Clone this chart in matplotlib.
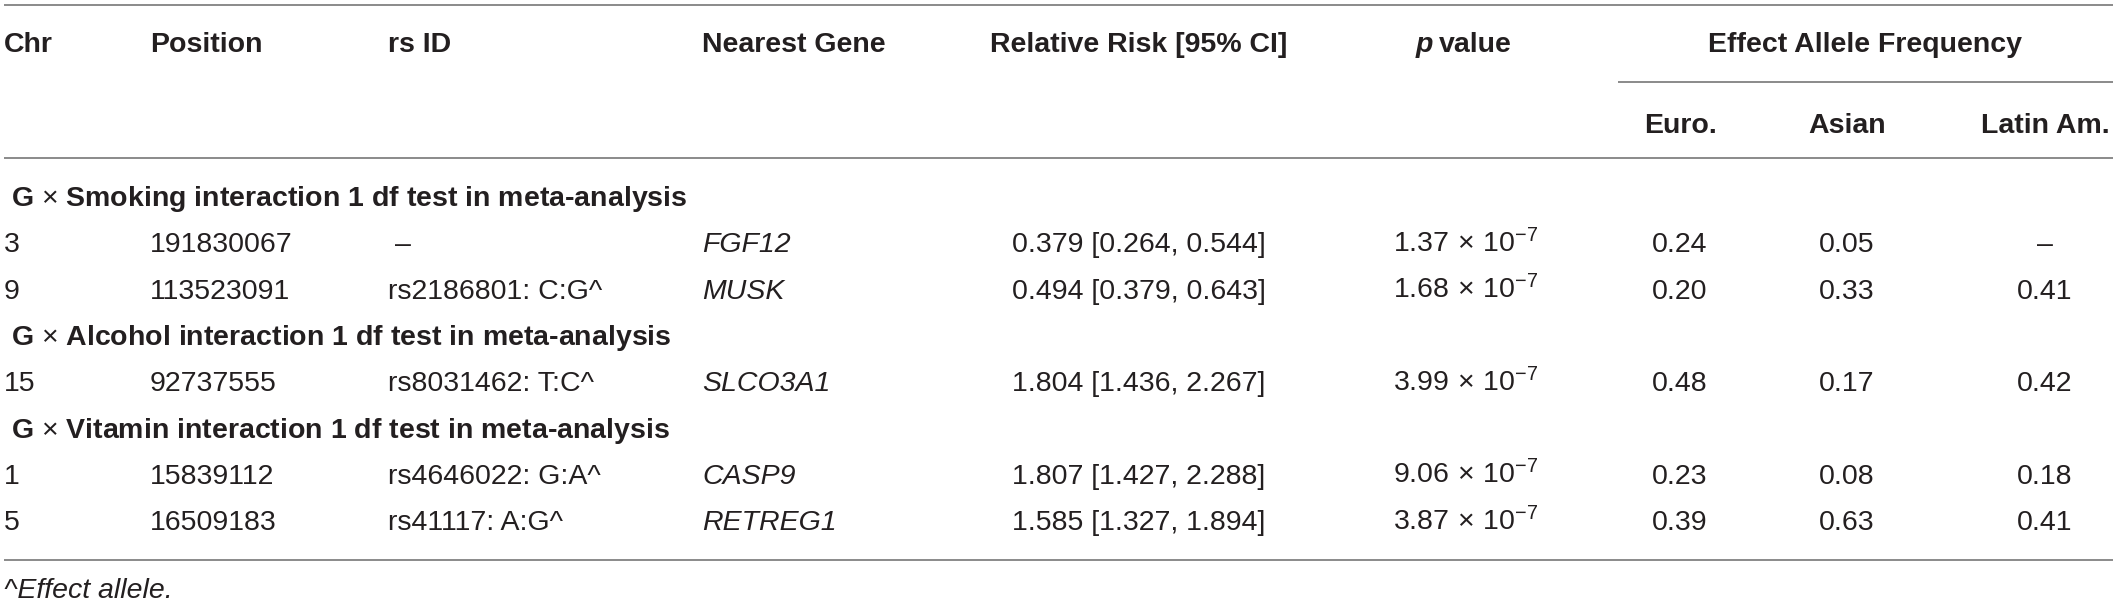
import matplotlib
matplotlib.use("Agg")
import matplotlib.pyplot as plt

plt.rcParams['font.family'] = ['Liberation Sans', 'DejaVu Sans']
plt.rcParams['mathtext.fontset'] = 'custom'
plt.rcParams['mathtext.rm'] = 'Liberation Sans'
plt.rcParams['mathtext.it'] = 'Liberation Sans:italic'
plt.rcParams['mathtext.bf'] = 'Liberation Sans:bold'

# ---------------- data ----------------
headers = ["Chr", "Position", "rs ID", "Nearest Gene", "Relative Risk [95% CI]", "p value"]
group_header = "Effect Allele Frequency"
sub_headers = ["Euro.", "Asian", "Latin Am."]

group_titles = ["Smoking", "Alcohol", "Vitamin"]
group_sizes = [2, 1, 2]

chrs = ["3", "9", "15", "1", "5"]
positions = ["191830067", "113523091", "92737555", "15839112", "16509183"]
rs_ids = ["\u2013", "rs2186801: C:G^", "rs8031462: T:C^", "rs4646022: G:A^", "rs41117: A:G^"]
genes = ["FGF12", "MUSK", "SLCO3A1", "CASP9", "RETREG1"]
rr = ["0.379", "0.494", "1.804", "1.807", "1.585"]
ci_low = ["0.264", "0.379", "1.436", "1.427", "1.327"]
ci_high = ["0.544", "0.643", "2.267", "2.288", "1.894"]
p_mant = ["1.37", "1.68", "3.99", "9.06", "3.87"]
p_exp = ["-7", "-7", "-7", "-7", "-7"]
eaf_euro = ["0.24", "0.20", "0.48", "0.23", "0.39"]
eaf_asian = ["0.05", "0.33", "0.17", "0.08", "0.63"]
eaf_latin = ["\u2013", "0.41", "0.42", "0.18", "0.41"]
footnote = "^Effect allele."

# ---------------- layout ----------------
W, H = 2117, 606
fig = plt.figure(figsize=(W / 100, H / 100), dpi=100)
ax = fig.add_axes([0, 0, 1, 1])
ax.set_xlim(0, W)
ax.set_ylim(H, 0)
ax.axis('off')

FS = 20.5
TXT = '#231f20'
LINE = '#8a8a8a'
LW = 1.4

# column anchors
x_chr, x_pos, x_rs, x_gene = 4, 150, 388, 702
x_rr, x_p = 1139, 1466
x_eaf = [1680, 1847, 2045]

# horizontal rules
for y in (5, 158, 560):
    ax.plot([4, 2113], [y, y], color=LINE, lw=LW, solid_capstyle='butt')
ax.plot([1618, 2113], [82, 82], color=LINE, lw=LW, solid_capstyle='butt')

# headers
hb = 52
ax.text(x_chr, hb, headers[0], fontsize=FS, fontweight='bold', color=TXT, va='baseline', ha='left')
ax.text(x_pos, hb, headers[1], fontsize=FS, fontweight='bold', color=TXT, va='baseline', ha='left')
ax.text(x_rs, hb, headers[2], fontsize=FS, fontweight='bold', color=TXT, va='baseline', ha='left')
ax.text(x_gene, hb, headers[3], fontsize=FS, fontweight='bold', color=TXT, va='baseline', ha='left')
ax.text(x_rr, hb, headers[4], fontsize=FS, fontweight='bold', color=TXT, va='baseline', ha='center')
# p value header: italic p + bold "value"
p_word, v_word = headers[5].split(' ', 1)
ax.text(x_p - 50, hb, p_word, fontsize=FS, fontweight='bold', style='italic', color=TXT,
        va='baseline', ha='left')
ax.text(x_p - 27, hb, v_word, fontsize=FS, fontweight='bold', color=TXT, va='baseline', ha='left')
ax.text((1618 + 2113) / 2, hb, group_header, fontsize=FS, fontweight='bold', color=TXT,
        va='baseline', ha='center')
for x, s in zip(x_eaf, sub_headers):
    ax.text(x, 133, s, fontsize=FS, fontweight='bold', color=TXT, va='baseline', ha='center')

# body
y0 = 206
step = 46.3
row = 0
k = 0
for g, n in zip(group_titles, group_sizes):
    yb = y0 + row * step
    ax.text(11, yb, 'G $\\times$ ' + g + ' interaction 1 df test in meta-analysis',
            fontsize=FS, fontweight='bold', color=TXT, va='baseline', ha='left')
    row += 1
    for _ in range(n):
        yb = y0 + row * step
        ax.text(x_chr, yb, chrs[k], fontsize=FS, color=TXT, va='baseline', ha='left')
        ax.text(x_pos, yb, positions[k], fontsize=FS, color=TXT, va='baseline', ha='left')
        xr = x_rs + (7 if rs_ids[k] == "\u2013" else 0)
        ax.text(xr, yb, rs_ids[k], fontsize=FS, color=TXT, va='baseline', ha='left')
        ax.text(x_gene, yb, genes[k], fontsize=FS, style='italic', color=TXT, va='baseline', ha='left')
        ax.text(x_rr, yb, f"{rr[k]} [{ci_low[k]}, {ci_high[k]}]", fontsize=FS, color=TXT,
                va='baseline', ha='center')
        ax.text(x_p, yb, r'$\mathregular{' + p_mant[k] + r'\,\times\,10^{' + p_exp[k] + r'}}$',
                fontsize=FS, color=TXT, va='baseline', ha='center')
        for x, vals in zip(x_eaf, (eaf_euro, eaf_asian, eaf_latin)):
            ax.text(x, yb, vals[k], fontsize=FS, color=TXT, va='baseline', ha='center')
        row += 1
        k += 1

ax.text(4, 598, footnote, fontsize=FS, style='italic', color=TXT, va='baseline', ha='left')

fig.savefig('out.png', dpi=100)
